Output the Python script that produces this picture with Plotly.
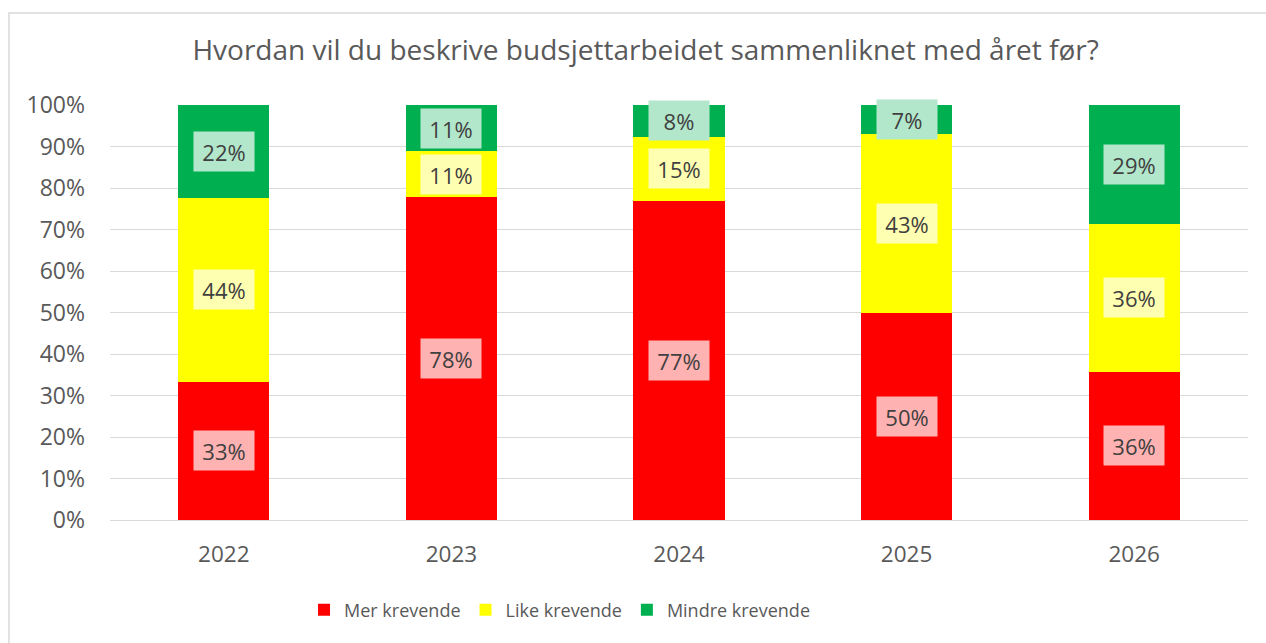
import plotly.graph_objects as go

years = ["2022", "2023", "2024", "2025", "2026"]
mer = [33.3, 77.8, 76.9, 50.0, 35.7]
like = [44.4, 11.1, 15.4, 42.9, 35.7]
mindre = [22.2, 11.1, 7.7, 7.1, 28.6]
series_names = ["Mer krevende", "Like krevende", "Mindre krevende"]
colors = ["#FF0000", "#FFFF00", "#00B050"]
label_bg = ["rgba(255,178,178,1)", "rgba(255,255,178,1)", "rgba(178,231,203,1)"]
y_ticks = [0, 10, 20, 30, 40, 50, 60, 70, 80, 90, 100]

FONT = "Open Sans"
GRAY = "#595959"

fig = go.Figure()
all_series = [mer, like, mindre]
for name, vals, col in zip(series_names, all_series, colors):
    fig.add_trace(go.Bar(x=years, y=vals, name=name, marker=dict(color=col, line=dict(width=0)),
                         hoverinfo="skip"))

# data labels (category axis: use the category index)
annotations = []
for i, yr in enumerate(years):
    base = 0
    for s, vals in enumerate(all_series):
        v = vals[i]
        annotations.append(dict(x=i, y=base + v / 2, text=f"{round(v)}%", showarrow=False,
                                xref="x", yref="y", bgcolor=label_bg[s],
                                font=dict(family=FONT, size=22, color="#404040"),
                                width=48, height=27, borderpad=6))
        base += v

fig.update_layout(
    barmode="stack",
    bargap=0.6,
    width=1266, height=643,
    margin=dict(l=110, r=18, t=105, b=123),
    paper_bgcolor="white", plot_bgcolor="white",
    title=dict(text="Hvordan vil du beskrive budsjettarbeidet sammenliknet med året før?",
               x=0.51, xanchor="center", y=0.922, yanchor="middle",
               font=dict(family=FONT, size=28, color=GRAY)),
    font=dict(family=FONT, color=GRAY),
    legend=dict(orientation="h", x=0.395, xanchor="center", y=-0.217, yanchor="middle",
                font=dict(family=FONT, size=18, color=GRAY), traceorder="normal",
                itemwidth=30),
    annotations=annotations,
    shapes=[dict(type="rect", xref="paper", yref="paper", x0=-0.0888, x1=1.03,
                 y0=-0.4, y1=1.2217, line=dict(color="#D9D9D9", width=1.5), layer="below")],
)
fig.update_yaxes(range=[0, 100], tickvals=y_ticks, ticktext=[f"{t}%" for t in y_ticks],
                 showgrid=True, gridcolor="#D9D9D9", gridwidth=1, zeroline=False,
                 tickfont=dict(family=FONT, size=23, color=GRAY), ticks="", ticklen=0,
                 ticklabelstandoff=24, showline=False, fixedrange=True)
fig.update_xaxes(type="category", showgrid=False, tickfont=dict(family=FONT, size=22.5, color=GRAY),
                 showline=True, linecolor="#D9D9D9", linewidth=1, ticks="",
                 ticklabelstandoff=14, fixedrange=True)

fig.write_html("out.html", config={"displayModeBar": False},
               post_script="document.body.style.margin='0';")
